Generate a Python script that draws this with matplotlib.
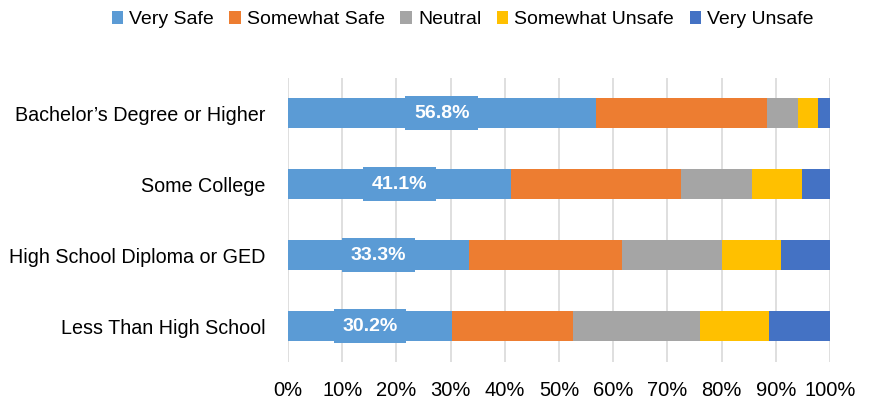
import matplotlib.pyplot as plt
import numpy as np

categories = ["Bachelor\u2019s Degree or Higher", "Some College",
              "High School Diploma or GED", "Less Than High School"]
series_names = ["Very Safe", "Somewhat Safe", "Neutral", "Somewhat Unsafe", "Very Unsafe"]
very_safe = [56.8, 41.1, 33.3, 30.2]
somewhat_safe = [31.6, 31.5, 28.4, 22.4]
neutral = [5.8, 13.0, 18.4, 23.5]
somewhat_unsafe = [3.6, 9.3, 10.9, 12.7]
very_unsafe = [2.2, 5.1, 9.0, 11.2]
colors = ["#5B9BD5", "#ED7D31", "#A5A5A5", "#FFC000", "#4472C4"]

plt.rcParams["font.family"] = ["Liberation Sans", "DejaVu Sans"]

fig = plt.figure(figsize=(8.81, 4.17), dpi=100)
ax = fig.add_axes([0.327, 0.133, 0.615, 0.681])

y = np.arange(len(categories))
data = [very_safe, somewhat_safe, neutral, somewhat_unsafe, very_unsafe]
left = np.zeros(len(categories))
for name, vals, c in zip(series_names, data, colors):
    ax.barh(y, vals, left=left, height=0.42, color=c, label=name, zorder=3)
    left += np.array(vals)

for yi, v in zip(y, very_safe):
    ax.text(v / 2, yi, f"{v:.1f}%", ha="center", va="center", color="white",
            fontsize=14, fontweight="bold", zorder=4,
            bbox=dict(boxstyle="square,pad=0.45", fc=colors[0], ec="none"))

ax.set_xlim(0, 100)
ax.set_ylim(3.5, -0.5)
ax.set_xticks(np.arange(0, 101, 10))
ax.set_xticklabels([f"{t}%" for t in range(0, 101, 10)], fontsize=14.5)
ax.set_yticks(y)
ax.set_yticklabels(categories, fontsize=14.2)
ax.tick_params(length=0, pad=14, axis="x")
ax.tick_params(length=0, pad=16, axis="y")
ax.grid(axis="x", color="#D9D9D9", linewidth=1.2, zorder=0)
for s in ax.spines.values():
    s.set_visible(False)

fig.legend(loc="upper center", bbox_to_anchor=(0.525, 1.015), ncol=5, frameon=False,
           fontsize=14, handlelength=0.6, handleheight=0.6, handletextpad=0.3,
           columnspacing=0.8)

fig.savefig("out.png", dpi=100)
